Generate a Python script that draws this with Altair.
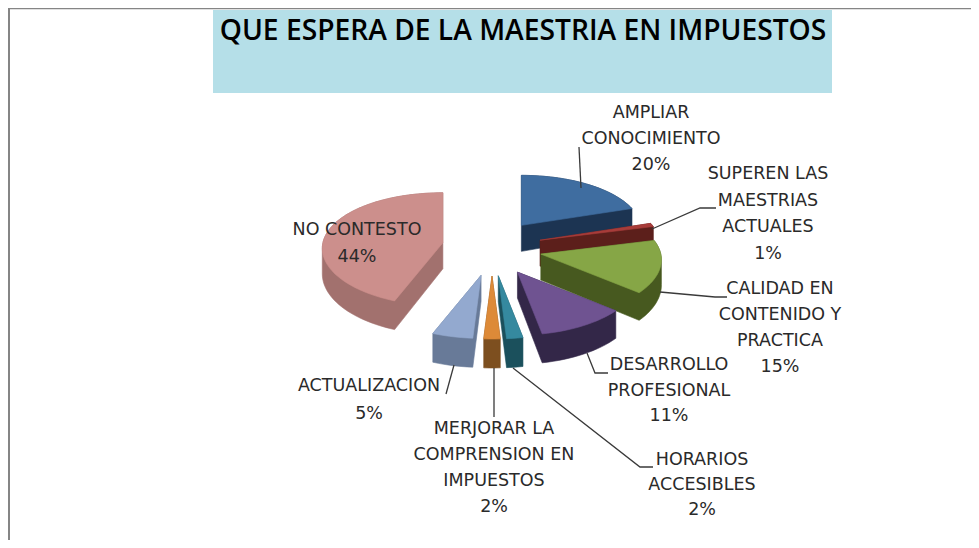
import math
import altair as alt
import pandas as pd

# ---- chart values
title_text = "QUE ESPERA DE LA MAESTRIA EN IMPUESTOS"
categories = ["AMPLIAR CONOCIMIENTO", "SUPEREN LAS MAESTRIAS ACTUALES",
              "CALIDAD EN CONTENIDO Y PRACTICA", "DESARROLLO PROFESIONAL",
              "HORARIOS ACCESIBLES", "MERJORAR LA COMPRENSION EN IMPUESTOS",
              "ACTUALIZACION", "NO CONTESTO"]
percent = [20, 1, 15, 11, 2, 2, 5, 44]
label_lines = [["AMPLIAR", "CONOCIMIENTO"],
               ["SUPEREN LAS", "MAESTRIAS", "ACTUALES"],
               ["CALIDAD EN", "CONTENIDO Y", "PRACTICA"],
               ["DESARROLLO", "PROFESIONAL"],
               ["HORARIOS", "ACCESIBLES"],
               ["MERJORAR LA", "COMPRENSION EN", "IMPUESTOS"],
               ["ACTUALIZACION"],
               ["NO CONTESTO"]]

# ---- styles
top_colors = ["#3F6DA0", "#A83C3A", "#86A646", "#6F5391", "#35899F", "#DD8A38", "#93A9CF", "#CC8F8C"]
side_colors = ["#1C3452", "#5C1F1B", "#47591F", "#332748", "#1B505C", "#7D4F1F", "#687A98", "#A2716E"]
band_color = "#B5DFE8"
frame_color = "#858585"
text_color = "#2A2A2A"
line_color = "#3A3A3A"
font = "DejaVu Sans"
title_font = "Open Sans"

# ---- layout (pixels on the page)
W, H = 963, 532
CX, CY = 492, 248
EXPLODE_X, EXPLODE_Y = 50, 28
RX, RY = 120, 56.5
label_x = [651, 768, 780, 669, 702, 494, 369, 357]
label_y = [113, 174, 289, 365, 460, 429, 386, 230]
label_step = [26, 26.5, 26, 25.5, 25, 26, 28, 27]
leaders = [
    [(581, 188), (579, 147)],
    [(652, 229), (700, 208), (716, 208)],
    [(660, 292), (715, 297), (727, 297)],
    [(587, 353), (595, 373), (608, 373)],
    [(513, 368), (640, 467), (653, 467)],
    [(494, 368), (494, 417)],
    [(454, 365), (446, 394)],
]

x_scale = alt.Scale(domain=[8, 8 + W], range=[0, W], nice=False, zero=False)
y_scale = alt.Scale(domain=[8, 8 + H], range=[0, H], nice=False, zero=False)
X = alt.X("x:Q", scale=x_scale, axis=None)
Y = alt.Y("y:Q", scale=y_scale, axis=None)


def point(theta, ox, oy, drop=0.0):
    c, s = math.cos(theta), math.sin(theta)
    persp = 1 - 0.1 * c
    px = ox + RX * s * persp
    py = oy - c * (RY - 6.5 * c)
    return px, py + drop * (25 - 4 * c)


def hull(pts):
    pts = sorted(set(pts))
    def cross(o, a, b):
        return (a[0] - o[0]) * (b[1] - o[1]) - (a[1] - o[1]) * (b[0] - o[0])
    lo, up = [], []
    for p in pts:
        while len(lo) > 1 and cross(lo[-2], lo[-1], p) <= 0:
            lo.pop()
        lo.append(p)
    for p in reversed(pts):
        while len(up) > 1 and cross(up[-2], up[-1], p) <= 0:
            up.pop()
        up.append(p)
    return lo[:-1] + up[:-1]


def polygon(pts, fill):
    closed = list(pts) + [pts[0]]
    df = pd.DataFrame({"x": [p[0] for p in closed], "y": [p[1] for p in closed],
                       "i": list(range(len(closed)))})
    return alt.Chart(df).mark_line(fill=fill, stroke=fill, strokeWidth=0.6, fillOpacity=1).encode(
        x=X, y=Y, order="i:Q")


slices = []
start = 0.0
total = sum(percent)
for i, v in enumerate(percent):
    a0 = start / total * 2 * math.pi
    a1 = (start + v) / total * 2 * math.pi
    mid = (a0 + a1) / 2
    ox = CX + EXPLODE_X * math.sin(mid)
    oy = CY - EXPLODE_Y * math.cos(mid)
    n = max(3, int(v * 1.5))
    arc = [a0 + (a1 - a0) * k / n for k in range(n + 1)]
    top = [(ox, oy)] + [point(t, ox, oy) for t in arc]
    low = [(ox, oy + 26)] + [point(t, ox, oy, drop=1) for t in arc]
    slices.append((oy, i, top, low))
    start += v

layers = []
band = pd.DataFrame({"x": [213], "x2": [832], "y": [10], "y2": [93]})
layers.append(alt.Chart(band).mark_rect(color=band_color).encode(
    x=X, x2="x2:Q", y=Y, y2="y2:Q"))

frame_top = pd.DataFrame({"x": [8, 971], "y": [8.5, 8.5], "i": [0, 1]})
frame_left = pd.DataFrame({"x": [9, 9], "y": [8, 540], "i": [0, 1]})
layers.append(alt.Chart(frame_top).mark_line(color=frame_color, strokeWidth=1.5).encode(x=X, y=Y, order="i:Q"))
layers.append(alt.Chart(frame_left).mark_line(color=frame_color, strokeWidth=2).encode(x=X, y=Y, order="i:Q"))

for oy, i, top, low in sorted(slices, key=lambda s: s[0]):
    layers.append(polygon(hull(top + low), side_colors[i]))
    layers.append(polygon(top, top_colors[i]))

for path in leaders:
    df = pd.DataFrame({"x": [p[0] for p in path], "y": [p[1] for p in path], "i": list(range(len(path)))})
    layers.append(alt.Chart(df).mark_line(color=line_color, strokeWidth=1.3).encode(x=X, y=Y, order="i:Q"))

rows = []
for lines, v, lx, ly, step in zip(label_lines, percent, label_x, label_y, label_step):
    for k, t in enumerate(lines + [f"{v}%"]):
        rows.append({"x": lx, "y": ly + k * step, "t": t})
layers.append(alt.Chart(pd.DataFrame(rows)).mark_text(
    font=font, fontSize=17.5, color=text_color, align="center", baseline="middle").encode(
    x=X, y=Y, text="t:N"))

title_df = pd.DataFrame({"x": [523], "y": [32], "t": [title_text]})
layers.append(alt.Chart(title_df).mark_text(
    font=title_font, fontSize=28.2, fontWeight=600, color="#000000", align="center", baseline="middle").encode(
    x=X, y=Y, text="t:N"))

chart = alt.layer(*layers).properties(
    width=W, height=H, padding=0, autosize=alt.AutoSizeParams(type="none"),
    background="#FFFFFF"
).configure_view(stroke=None)

chart.save("out.html", embed_options={"renderer": "svg", "actions": False})
